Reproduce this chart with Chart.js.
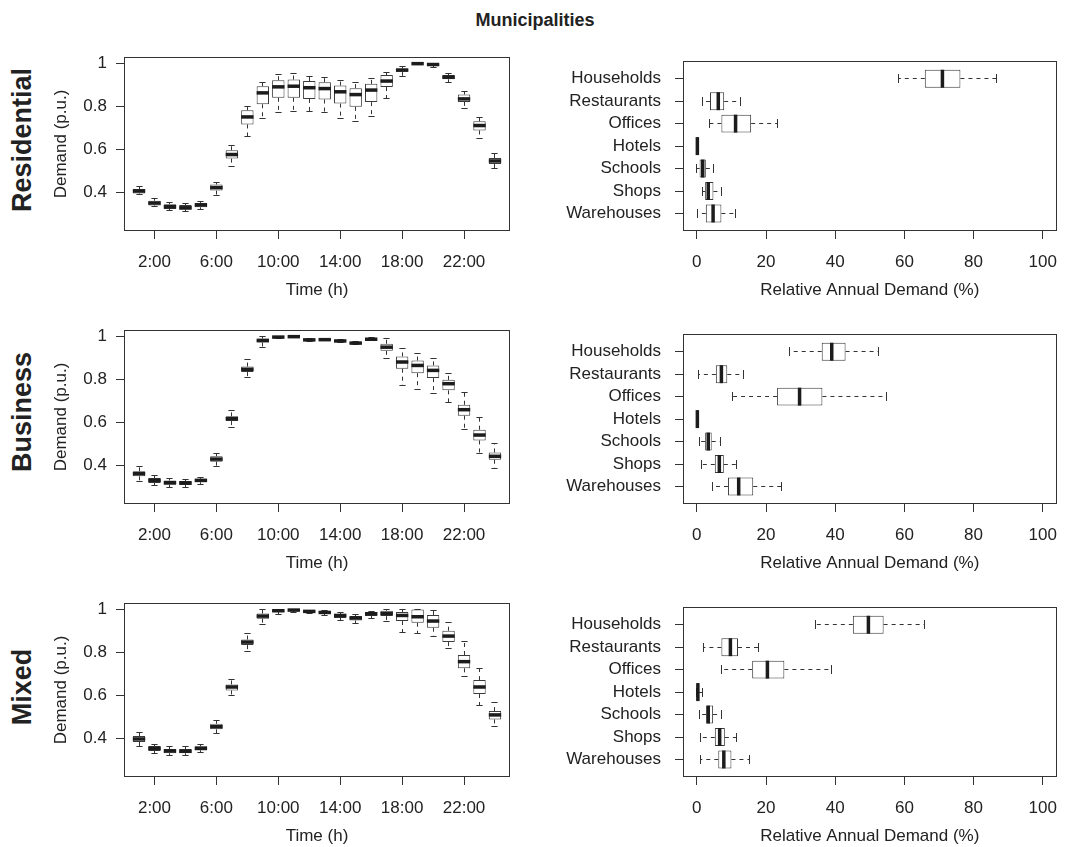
<!DOCTYPE html>
<html><head><meta charset="utf-8">
<script src="https://cdn.jsdelivr.net/npm/chart.js@4.4.1/dist/chart.umd.min.js"></script>
<style>
html,body{margin:0;padding:0;background:#fff;}
body{width:1070px;height:847px;position:relative;overflow:hidden;font-family:'Liberation Sans',Arial,Helvetica,sans-serif;color:#222;}
canvas{position:absolute;}
#title{position:absolute;left:0;width:1070px;top:9px;line-height:22px;text-align:center;font-weight:bold;font-size:18px;}
.rowlab{position:absolute;font-weight:bold;font-size:27px;line-height:30px;white-space:nowrap;transform:translate(-50%,-50%) rotate(-90deg);}
</style></head><body>
<div id="title">Municipalities</div>
<div class="rowlab" style="left:22px;top:140px">Residential</div>
<div class="rowlab" style="left:22px;top:412px">Business</div>
<div class="rowlab" style="left:22px;top:687px">Mixed</div>
<canvas id="c0"></canvas><canvas id="c1"></canvas>
<canvas id="c2"></canvas><canvas id="c3"></canvas>
<canvas id="c4"></canvas><canvas id="c5"></canvas>
<script>
// ---------- data ----------
const hours = [1,2,3,4,5,6,7,8,9,10,11,12,13,14,15,16,17,18,19,20,21,22,23,24];
const timeTickValues = [2,6,10,14,18,22];
const timeTickLabels = ['2:00','6:00','10:00','14:00','18:00','22:00'];
const demandTickValues = [0.4,0.6,0.8,1];
const demandTickLabels = ['0.4','0.6','0.8','1'];
const shareTickValues = [0,20,40,60,80,100];
const shareTickLabels = ['0','20','40','60','80','100'];
const sectors = ['Households','Restaurants','Offices','Hotels','Schools','Shops','Warehouses'];
const sectorPos = [7,6,5,4,3,2,1];
const rowNames = ['Residential','Business','Mixed'];

// Residential hourly demand (p.u.)
const resLow  = [0.389,0.333,0.316,0.311,0.322,0.383,0.520,0.660,0.744,0.773,0.778,0.778,0.770,0.743,0.728,0.751,0.838,0.941,0.994,0.980,0.913,0.790,0.650,0.513];
const resQ1   = [0.395,0.339,0.322,0.319,0.330,0.408,0.557,0.716,0.810,0.840,0.840,0.835,0.832,0.813,0.798,0.820,0.890,0.961,0.997,0.988,0.927,0.821,0.688,0.532];
const resMed  = [0.406,0.350,0.333,0.328,0.341,0.422,0.576,0.751,0.863,0.891,0.894,0.887,0.883,0.868,0.855,0.876,0.918,0.969,0.999,0.995,0.936,0.835,0.711,0.546];
const resQ3   = [0.416,0.361,0.344,0.341,0.350,0.436,0.596,0.782,0.894,0.922,0.925,0.918,0.913,0.897,0.885,0.905,0.946,0.977,1.000,0.998,0.946,0.855,0.731,0.560];
const resHigh = [0.428,0.370,0.353,0.349,0.358,0.448,0.619,0.798,0.913,0.949,0.953,0.941,0.936,0.922,0.910,0.930,0.956,0.988,1.000,1.000,0.952,0.871,0.750,0.579];

// Business hourly demand (p.u.)
const busLow  = [0.326,0.307,0.299,0.299,0.310,0.395,0.578,0.809,0.950,0.992,0.997,0.978,0.979,0.973,0.962,0.980,0.895,0.771,0.752,0.733,0.693,0.566,0.453,0.383];
const busQ1   = [0.349,0.318,0.310,0.309,0.321,0.417,0.606,0.834,0.972,0.995,0.998,0.981,0.982,0.976,0.965,0.983,0.933,0.850,0.829,0.806,0.749,0.631,0.516,0.426];
const busMed  = [0.361,0.330,0.319,0.318,0.330,0.429,0.617,0.847,0.981,0.997,0.999,0.984,0.985,0.979,0.969,0.987,0.950,0.881,0.865,0.842,0.780,0.659,0.541,0.442];
const busQ3   = [0.372,0.341,0.329,0.327,0.338,0.442,0.628,0.860,0.991,0.998,1.000,0.989,0.988,0.983,0.975,0.990,0.966,0.907,0.888,0.865,0.798,0.682,0.566,0.460];
const busHigh = [0.395,0.352,0.340,0.336,0.344,0.457,0.654,0.893,1.000,1.000,1.000,0.991,0.990,0.986,0.978,0.993,0.992,0.946,0.922,0.895,0.829,0.740,0.625,0.501];

// Mixed hourly demand (p.u.)
const mixLow  = [0.364,0.329,0.321,0.321,0.336,0.423,0.600,0.806,0.930,0.977,0.988,0.981,0.974,0.949,0.933,0.958,0.943,0.891,0.887,0.876,0.817,0.687,0.555,0.457];
const mixQ1   = [0.383,0.341,0.330,0.330,0.344,0.442,0.623,0.834,0.957,0.988,0.994,0.986,0.981,0.960,0.949,0.969,0.969,0.946,0.938,0.915,0.848,0.726,0.606,0.488];
const mixMed  = [0.397,0.353,0.341,0.340,0.353,0.454,0.639,0.848,0.969,0.994,0.997,0.991,0.986,0.972,0.960,0.980,0.981,0.972,0.966,0.946,0.876,0.757,0.639,0.509];
const mixQ3   = [0.411,0.364,0.350,0.350,0.363,0.468,0.651,0.860,0.981,0.998,1.000,0.994,0.991,0.978,0.969,0.988,0.994,0.988,1.000,0.974,0.901,0.788,0.671,0.527];
const mixHigh = [0.429,0.372,0.361,0.360,0.372,0.484,0.674,0.887,1.000,1.000,1.000,0.997,0.994,0.984,0.977,0.992,1.000,1.000,1.000,0.997,0.941,0.850,0.724,0.566];

// Relative annual demand (%) by sector
const resShareLow  = [58.2, 1.5,  3.8, 0.00, 0.0, 1.7,  0.3];
const resShareQ1   = [65.9, 3.8,  7.1, 0.05, 0.8, 2.4,  2.6];
const resShareMed  = [71.0, 6.2, 11.2, 0.15, 1.7, 3.3,  4.7];
const resShareQ3   = [76.2, 7.9, 15.7, 0.30, 2.6, 4.8,  7.1];
const resShareHigh = [86.6,12.6, 23.2, 0.50, 4.7, 7.1, 11.1];

const busShareLow  = [26.9, 0.5, 10.2, 0.00, 0.8, 1.4,  4.5];
const busShareQ1   = [36.1, 5.5, 23.2, 0.05, 2.4, 5.2,  9.0];
const busShareMed  = [39.0, 7.1, 29.7, 0.15, 3.3, 6.5, 12.1];
const busShareQ3   = [43.0, 8.8, 36.3, 0.30, 4.3, 7.8, 16.3];
const busShareHigh = [52.5,13.6, 54.8, 0.45, 6.8,11.4, 24.6];

const mixShareLow  = [34.3, 1.9,  7.1, 0.0, 0.8, 1.2,  1.2];
const mixShareQ1   = [45.1, 7.1, 16.0, 0.1, 2.7, 5.2,  6.2];
const mixShareMed  = [49.6, 9.7, 20.4, 0.3, 3.3, 6.6,  7.8];
const mixShareQ3   = [54.0,11.9, 25.3, 0.6, 4.7, 8.1, 10.0];
const mixShareHigh = [65.7,17.7, 38.9, 1.6, 7.1,11.4, 15.2];

// ---------- layout ----------
const LEFT_FRAME = [124, 510];
const RIGHT_FRAME = [683, 1068];
const ROW_TOP = [57, 330, 603];
const FRAME_H = 174;
const FONT = "'Liberation Sans', Arial, Helvetica, sans-serif";
const INK = '#222';
const LINE = '#333';

Chart.defaults.font.family = FONT;
Chart.defaults.color = INK;

const boxPlugin = {
  id: 'boxWhisker',
  beforeDatasetsDraw(chart, args, o) {
    const g = geo(chart, o);
    const ctx = chart.ctx;
    ctx.save();
    ctx.strokeStyle = LINE; ctx.lineWidth = 1;
    for (let i = 0; i < o.pos.length; i++) {
      const p = crisp(g.ps.getPixelForValue(o.pos[i]));
      const vL = g.vs.getPixelForValue(o.low[i]), v1 = g.vs.getPixelForValue(o.q1[i]);
      const v3 = g.vs.getPixelForValue(o.q3[i]), vH = g.vs.getPixelForValue(o.high[i]);
      ctx.setLineDash([4, 4]);
      seg(ctx, g.h, v3, p, vH, p);
      seg(ctx, g.h, v1, p, vL, p);
      ctx.setLineDash([]);
      const cH = crisp(vH), cL = crisp(vL);
      seg(ctx, g.h, cH, p - g.cap, cH, p + g.cap);
      seg(ctx, g.h, cL, p - g.cap, cL, p + g.cap);
    }
    ctx.restore();
  },
  afterDatasetsDraw(chart, args, o) {
    const g = geo(chart, o);
    const ctx = chart.ctx;
    ctx.save();
    ctx.strokeStyle = '#1c1c1c'; ctx.lineWidth = 3.5; ctx.lineCap = 'butt';
    for (let i = 0; i < o.pos.length; i++) {
      const p = g.ps.getPixelForValue(o.pos[i]);
      const m = g.vs.getPixelForValue(o.med[i]);
      seg(ctx, g.h, m, p - g.half, m, p + g.half);
    }
    ctx.restore();
    const a = chart.chartArea;
    ctx.save();
    ctx.strokeStyle = LINE; ctx.lineWidth = 1;
    ctx.strokeRect(Math.round(a.left) + 0.5, Math.round(a.top) + 0.5, Math.round(a.right - a.left) - 1, Math.round(a.bottom - a.top) - 1);
    ctx.restore();
  }
};
function crisp(v) { return Math.round(v - 0.5) + 0.5; }
function geo(chart, o) {
  const h = o.horizontal;
  const ps = h ? chart.scales.y : chart.scales.x;
  const vs = h ? chart.scales.x : chart.scales.y;
  const unit = Math.abs(ps.getPixelForValue(1) - ps.getPixelForValue(0));
  const half = unit * 0.8 / 2;
  return {h, ps, vs, half, cap: half * 0.5};
}
function seg(ctx, h, v1, p1, v2, p2) {
  ctx.beginPath();
  if (h) { ctx.moveTo(v1, p1); ctx.lineTo(v2, p2); }
  else { ctx.moveTo(p1, v1); ctx.lineTo(p2, v2); }
  ctx.stroke();
}

const tickFont = {family: FONT, size: 17};
const gridCfg = {display: true, drawOnChartArea: false, drawTicks: true, tickLength: 8, color: LINE, lineWidth: 1, offset: false};

function leftChart(idx, row, st) {
  const cv = document.getElementById('c' + idx);
  const T = ROW_TOP[row] - 20;
  const H = 20 + FRAME_H + 80;
  const W = 540;
  cv.width = W; cv.height = H;
  cv.style.left = '0px'; cv.style.top = T + 'px';
  new Chart(cv, {
    type: 'bar',
    data: {datasets: [{
      data: st.pos.map((p, i) => ({x: p, y: [st.q1[i], st.q3[i]]})),
      backgroundColor: '#fff', borderColor: '#3a3a3a', borderWidth: 1, borderSkipped: false,
      barPercentage: 0.8, categoryPercentage: 1, grouped: false
    }]},
    options: {
      responsive: false, animation: false, devicePixelRatio: 1,
      layout: {padding: {left: 0, top: 20, right: W - LEFT_FRAME[1], bottom: 0}},
      plugins: {legend: {display: false}, tooltip: {enabled: false}, boxWhisker: Object.assign({horizontal: false}, st)},
      scales: {
        x: {type: 'linear', min: 0.03, max: 24.97, offset: false,
            afterBuildTicks: s => { s.ticks = timeTickValues.map(v => ({value: v})); },
            afterFit: s => { s.height = 80; },
            ticks: {font: tickFont, color: INK, padding: 13, maxRotation: 0, autoSkip: false,
                    callback: (v, i) => timeTickLabels[i]},
            grid: gridCfg, border: {display: false},
            title: {display: true, text: 'Time (h)', font: tickFont, color: INK, padding: {top: 0, bottom: 10}}},
        y: {type: 'linear', min: 0.22, max: 1.03, offset: false,
            afterBuildTicks: s => { s.ticks = demandTickValues.map(v => ({value: v})); },
            afterFit: s => { s.width = LEFT_FRAME[0]; },
            ticks: {font: tickFont, color: INK, padding: 9, autoSkip: false,
                    callback: (v, i) => demandTickLabels[i]},
            grid: gridCfg, border: {display: false},
            title: {display: true, text: 'Demand (p.u.)', font: tickFont, color: INK, padding: {top: 51, bottom: 0}}}
      }
    },
    plugins: [boxPlugin]
  });
}

function rightChart(idx, row, st) {
  const cv = document.getElementById('c' + idx);
  const T = ROW_TOP[row] - 20;
  const H = 20 + FRAME_H + 80;
  const L = 540, W = 530;
  cv.width = W; cv.height = H;
  cv.style.left = L + 'px'; cv.style.top = T + 'px';
  new Chart(cv, {
    type: 'bar',
    data: {datasets: [{
      data: st.pos.map((p, i) => ({y: p, x: [st.q1[i], st.q3[i]]})),
      backgroundColor: '#fff', borderColor: '#3a3a3a', borderWidth: 1, borderSkipped: false,
      barPercentage: 0.8, categoryPercentage: 1, grouped: false
    }]},
    options: {
      indexAxis: 'y',
      responsive: false, animation: false, devicePixelRatio: 1,
      layout: {padding: {left: 0, top: 20, right: W - (RIGHT_FRAME[1] - L), bottom: 0}},
      plugins: {legend: {display: false}, tooltip: {enabled: false}, boxWhisker: Object.assign({horizontal: true}, st)},
      scales: {
        x: {type: 'linear', min: -4, max: 104, offset: false,
            afterBuildTicks: s => { s.ticks = shareTickValues.map(v => ({value: v})); },
            afterFit: s => { s.height = 80; },
            ticks: {font: tickFont, color: INK, padding: 13, maxRotation: 0, autoSkip: false,
                    callback: (v, i) => shareTickLabels[i]},
            grid: gridCfg, border: {display: false},
            title: {display: true, text: 'Relative Annual Demand (%)', font: tickFont, color: INK, padding: {top: 0, bottom: 10}}},
        y: {type: 'linear', min: 0.22, max: 7.78, offset: false,
            afterBuildTicks: s => { s.ticks = sectorPos.map(v => ({value: v})); },
            afterFit: s => { s.width = RIGHT_FRAME[0] - L; },
            ticks: {font: tickFont, color: INK, padding: 14, autoSkip: false,
                    callback: (v) => sectors[sectorPos.indexOf(v)]},
            grid: gridCfg, border: {display: false}}
      }
    },
    plugins: [boxPlugin]
  });
}

leftChart(0, 0, {pos: hours, low: resLow, q1: resQ1, med: resMed, q3: resQ3, high: resHigh});
rightChart(1, 0, {pos: sectorPos, low: resShareLow, q1: resShareQ1, med: resShareMed, q3: resShareQ3, high: resShareHigh});
leftChart(2, 1, {pos: hours, low: busLow, q1: busQ1, med: busMed, q3: busQ3, high: busHigh});
rightChart(3, 1, {pos: sectorPos, low: busShareLow, q1: busShareQ1, med: busShareMed, q3: busShareQ3, high: busShareHigh});
leftChart(4, 2, {pos: hours, low: mixLow, q1: mixQ1, med: mixMed, q3: mixQ3, high: mixHigh});
rightChart(5, 2, {pos: sectorPos, low: mixShareLow, q1: mixShareQ1, med: mixShareMed, q3: mixShareQ3, high: mixShareHigh});
</script>
</body></html>
